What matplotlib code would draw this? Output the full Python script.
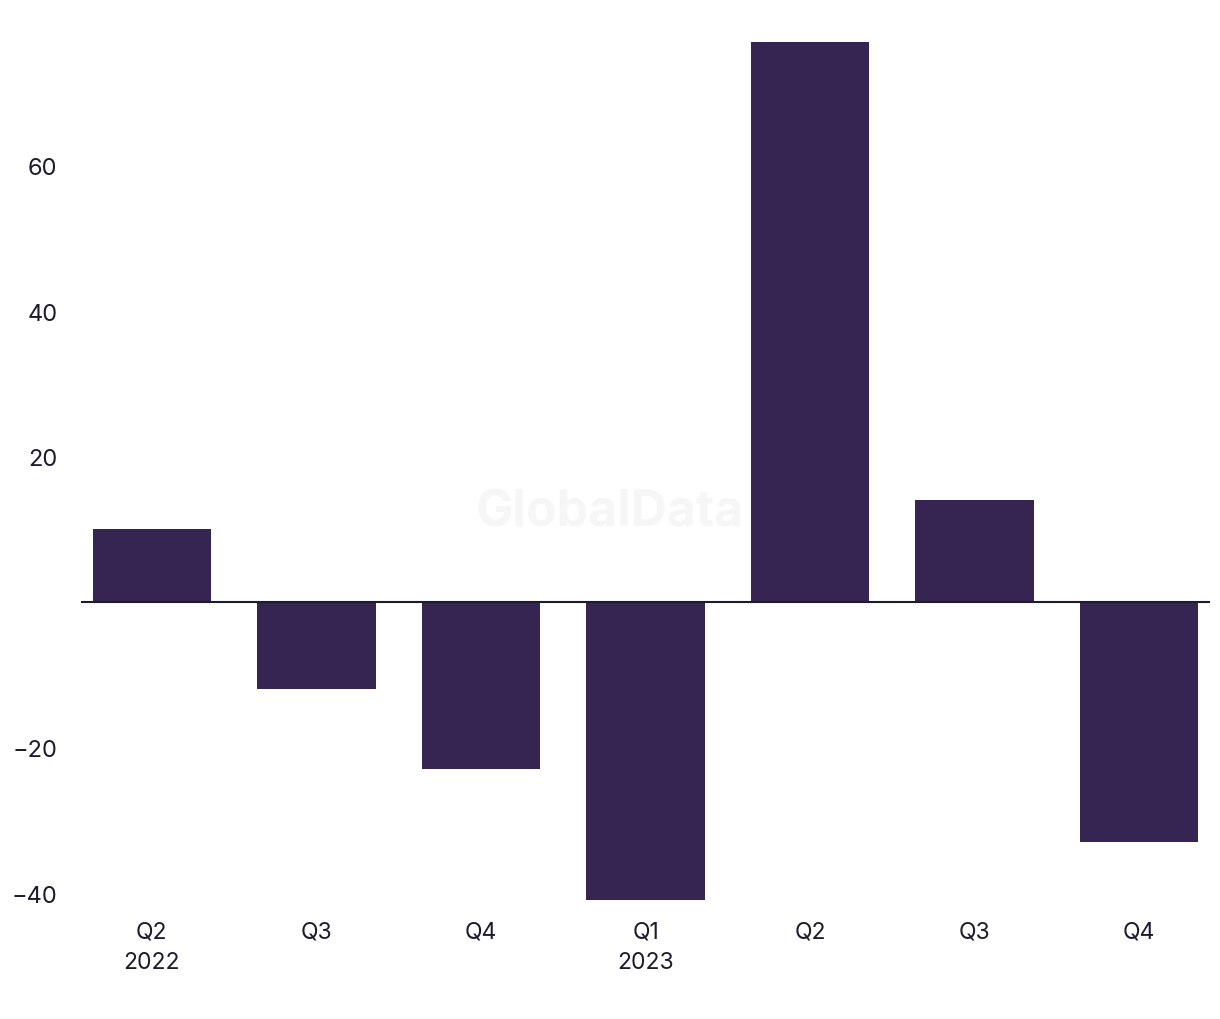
import matplotlib
matplotlib.use("Agg")
import matplotlib.pyplot as plt

# Quarterly values
quarters = ["Q2\n2022", "Q3", "Q4", "Q1\n2023", "Q2", "Q3", "Q4"]
values = [10, -12, -23, -41, 77, 14, -33]
y_ticks = [-40, -20, 20, 40, 60]

BAR_COLOR = "#362452"
TEXT_COLOR = "#1c1c2e"

plt.rcParams["font.family"] = ["Inter", "DejaVu Sans"]

fig = plt.figure(figsize=(12.2, 10.2), dpi=100)
ax = fig.add_axes([0.0664, 0.1127, 0.9254, 0.8667])

x = range(len(values))
ax.bar(x, values, width=0.72, color=BAR_COLOR, zorder=2)
ax.axhline(0, color=TEXT_COLOR, linewidth=1.5, zorder=3)

ax.set_xlim(-0.43, len(values) - 1 + 0.43)
ax.set_ylim(-41.5, 80)

ax.set_xticks(list(x))
ax.set_xticklabels(quarters, fontsize=16.5, color=TEXT_COLOR, linespacing=1.5)
ax.set_yticks(y_ticks)
ax.set_yticklabels([f"{v:d}".replace("-", "\u2212") for v in y_ticks],
                   fontsize=17, color=TEXT_COLOR)
ax.tick_params(axis="both", length=0)
ax.tick_params(axis="x", pad=12)
ax.tick_params(axis="y", pad=17)
for s in ax.spines.values():
    s.set_visible(False)

# watermark
fig.text(0.5, 0.497, "GlobalData", fontsize=36, fontweight="bold",
         color="#f6f6f6", ha="center", va="center", zorder=0)

fig.savefig("out.png", dpi=100)
